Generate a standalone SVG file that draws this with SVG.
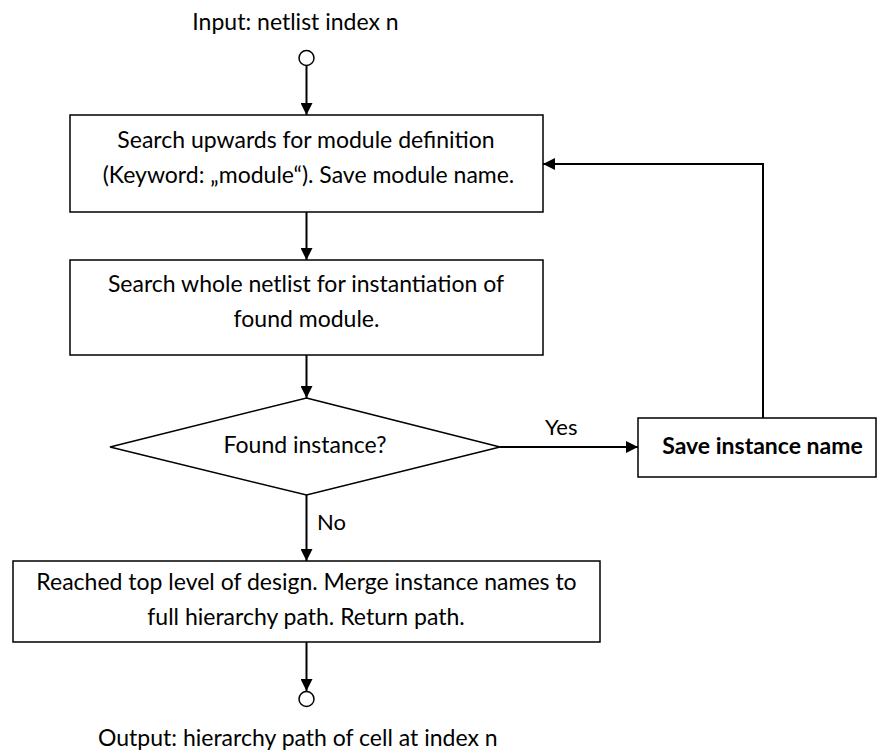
<svg xmlns="http://www.w3.org/2000/svg" width="877" height="754" viewBox="0 0 877 754">
  <defs>
    <marker id="arrow" viewBox="0 0 12 12" refX="12" refY="6" markerWidth="12" markerHeight="12" markerUnits="userSpaceOnUse" orient="auto">
      <path d="M0,0 L12,6 L0,12 Z" fill="#000"/>
    </marker>
    <style>
      .box { fill: #fff; stroke: #000; stroke-width: 1.5; }
      .term { fill: #fff; stroke: #000; stroke-width: 1.5; }
      .edge { fill: none; stroke: #000; stroke-width: 2; marker-end: url(#arrow); }
      .txt { font-family: Lato, "Liberation Sans", sans-serif; font-size: 23px; fill: #000; text-anchor: middle; }
      .lbl { font-family: Lato, "Liberation Sans", sans-serif; font-size: 22px; fill: #000; }
      .start { text-anchor: start; }
      .bold { font-weight: bold; }
    </style>
  </defs>

  <rect width="877" height="754" fill="#fff"/>

  <!-- connectors -->
  <g id="connectors">
    <line class="edge" x1="306.5" y1="66" x2="306.5" y2="115"/>
    <line class="edge" x1="306.5" y1="212" x2="306.5" y2="260"/>
    <line class="edge" x1="306.5" y1="355" x2="306.5" y2="398"/>
    <line class="edge" x1="306.5" y1="495" x2="306.5" y2="561"/>
    <line class="edge" x1="306.5" y1="642" x2="306.5" y2="691"/>
    <line class="edge" x1="500" y1="447" x2="638" y2="447"/>
    <polyline class="edge" points="763,418 763,164 543,164"/>
    <text class="lbl" x="545" y="435">Yes</text>
    <text class="lbl" x="317" y="530">No</text>
  </g>

  <!-- start terminal -->
  <g id="start">
    <text class="txt" x="295.5" y="30">Input: netlist index n</text>
    <circle class="term" cx="306.5" cy="58" r="7.5"/>
  </g>

  <!-- search module definition -->
  <g id="search-module">
    <rect class="box" x="70" y="115" width="473" height="97"/>
    <text class="txt" x="306" y="148">Search upwards for module definition</text>
    <text class="txt" x="308.5" y="183">(Keyword: „module“). Save module name.</text>
  </g>

  <!-- search instantiation -->
  <g id="search-instance">
    <rect class="box" x="70" y="260" width="473" height="95"/>
    <text class="txt" x="306" y="292">Search whole netlist for instantiation of</text>
    <text class="txt" x="306.5" y="327">found module.</text>
  </g>

  <!-- decision -->
  <g id="found-instance">
    <polygon class="box" points="306.5,398 500,447 306.5,495 110,447"/>
    <text class="txt" x="305" y="453">Found instance?</text>
  </g>

  <!-- save instance name -->
  <g id="save-instance">
    <rect class="box" x="638" y="418" width="238" height="59"/>
    <text class="txt bold" x="762.5" y="454">Save instance name</text>
  </g>

  <!-- top level reached -->
  <g id="top-level">
    <rect class="box" x="13" y="561" width="587" height="81"/>
    <text class="txt" x="306.5" y="590">Reached top level of design. Merge instance names to</text>
    <text class="txt" x="306" y="625">full hierarchy path. Return path.</text>
  </g>

  <!-- end terminal -->
  <g id="end">
    <circle class="term" cx="306.5" cy="699" r="7.5"/>
    <text class="txt start" x="98" y="746">Output: hierarchy path of cell at index n</text>
  </g>
</svg>
